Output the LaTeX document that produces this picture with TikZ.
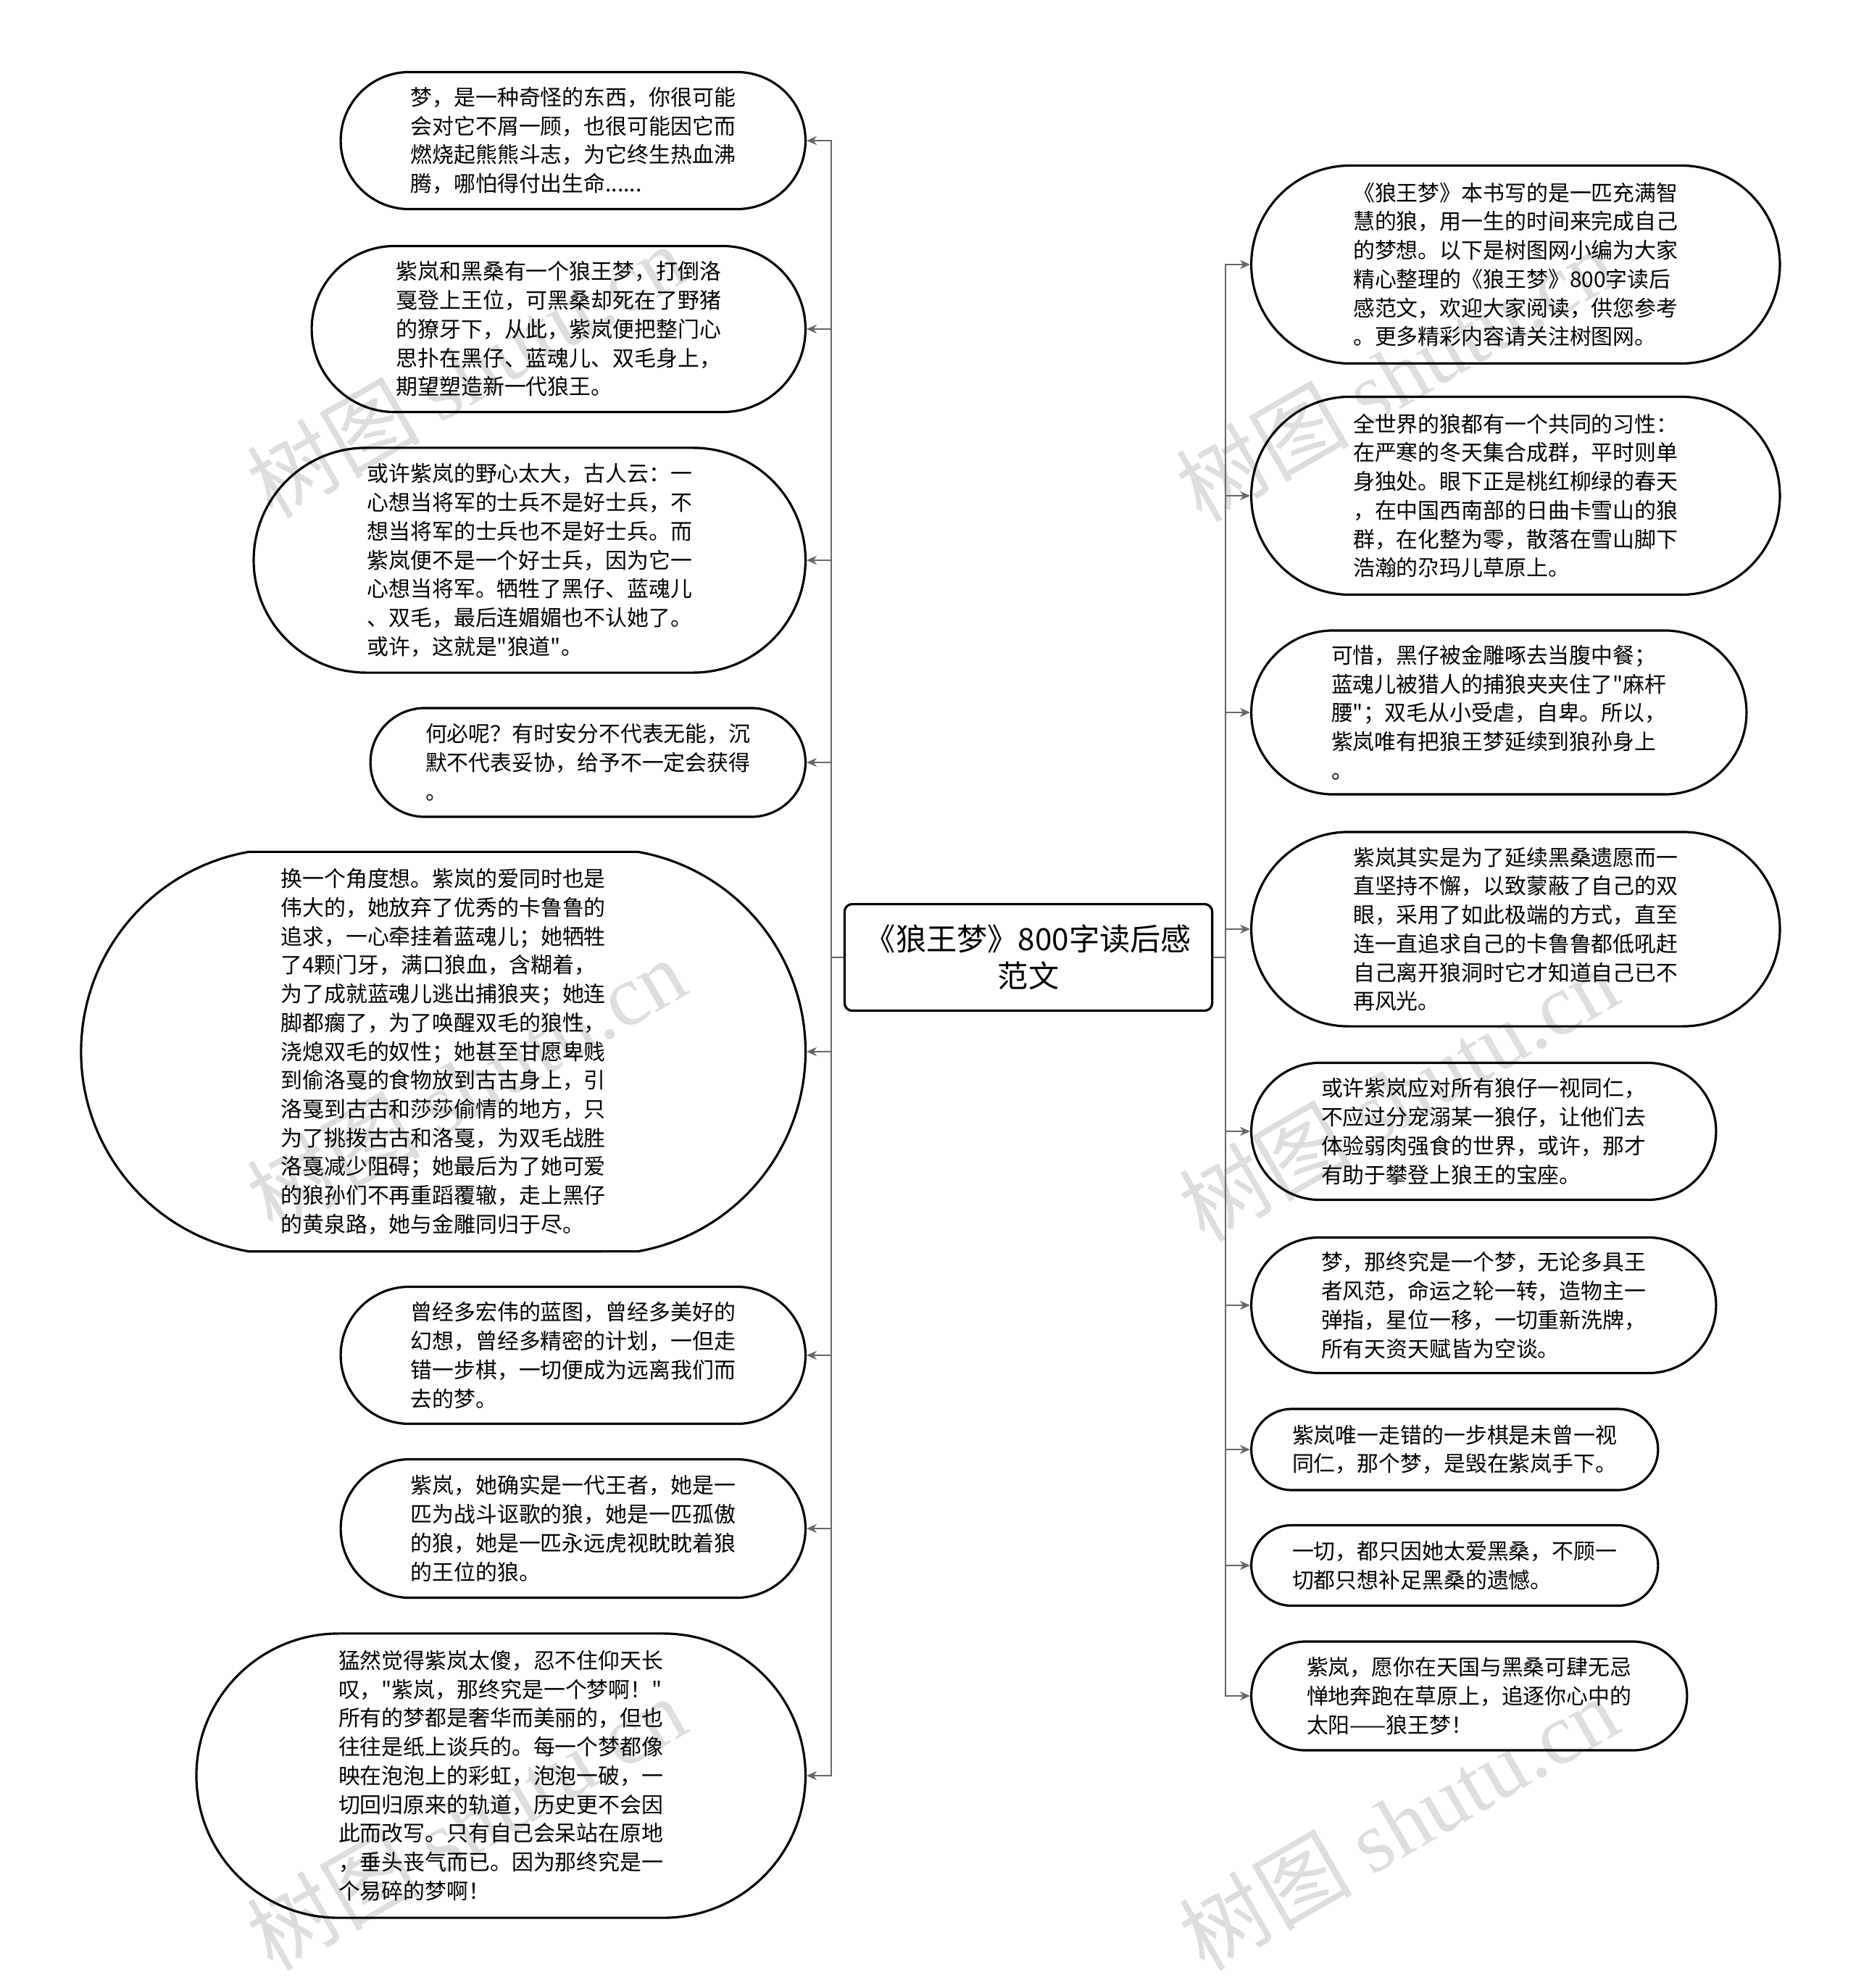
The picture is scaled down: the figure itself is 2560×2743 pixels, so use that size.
\documentclass[tikz,border=0pt]{standalone}
\usepackage{fontspec}
\setmainfont{Noto Sans CJK SC}
\newfontfamily\cjktext{Noto Sans CJK SC}
\newfontfamily\wmlatin{Liberation Serif}
\usepackage{xcolor}
\definecolor{linegray}{HTML}{666666}
\definecolor{wmgray}{HTML}{DDDDDD}
\usepackage{tikz}
\usetikzlibrary{arrows.meta,shapes.misc}

\begin{document}
\begin{tikzpicture}[
  x=0.01cm,y=0.01cm,
  leaf/.style={draw=black,line width=0.9pt,rounded rectangle,align=left,inner sep=2pt,font=\cjktext\fontsize{8.5pt}{11.3pt}\selectfont},
  root/.style={draw=black,line width=0.9pt,rounded corners=3pt,align=center,inner sep=2pt,font=\cjktext\fontsize{12pt}{14.6pt}\selectfont},
  arr/.style={-{Stealth[length=4pt,width=3.5pt]},draw=linegray,line width=0.6pt},
  wmark/.style={text=wmgray,rotate=30,font=\cjktext\fontsize{34pt}{36pt}\selectfont}]
\useasboundingbox (0,0) rectangle (2560,-2743);
% watermarks
\node[wmark] (wm1) at (643,-511) {树图 {\wmlatin shutu.cn}};
\node[wmark] (wm2) at (1925,-516) {树图 {\wmlatin shutu.cn}};
\node[wmark] (wm3) at (643,-1496) {树图 {\wmlatin shutu.cn}};
\node[wmark] (wm4) at (1929,-1509) {树图 {\wmlatin shutu.cn}};
\node[wmark] (wm5) at (643,-2515) {树图 {\wmlatin shutu.cn}};
\node[wmark] (wm6) at (1929,-2515) {树图 {\wmlatin shutu.cn}};
% central topic
\node[root,minimum width=5.07cm,minimum height=1.47cm] (root) at (1419,-1321) {《狼王梦》800字读后感\\范文};
% left branch
\node[leaf,anchor=east,minimum width=6.55cm,minimum height=1.89cm] (l1) at (1113,-194) {梦，是一种奇怪的东西，你很可能\\
会对它不屑一顾，也很可能因它而\\
燃烧起熊熊斗志，为它终生热血沸\\
腾，哪怕得付出生命......};
\node[leaf,anchor=east,minimum width=6.95cm,minimum height=2.29cm] (l2) at (1113,-454) {紫岚和黑桑有一个狼王梦，打倒洛\\
戛登上王位，可黑桑却死在了野猪\\
的獠牙下，从此，紫岚便把整门心\\
思扑在黑仔、蓝魂儿、双毛身上，\\
期望塑造新一代狼王。};
\node[leaf,anchor=east,minimum width=7.75cm,minimum height=3.10cm] (l3) at (1113,-773) {或许紫岚的野心太大，古人云：一\\
心想当将军的士兵不是好士兵，不\\
想当将军的士兵也不是好士兵。而\\
紫岚便不是一个好士兵，因为它一\\
心想当将军。牺牲了黑仔、蓝魂儿\\
、双毛，最后连媚媚也不认她了。\\
或许，这就是"狼道"。};
\node[leaf,anchor=east,minimum width=6.14cm,minimum height=1.50cm] (l4) at (1113,-1052) {何必呢？有时安分不代表无能，沉\\
默不代表妥协，给予不一定会获得\\
。};
\node[leaf,anchor=east,rounded rectangle arc length=160,minimum width=10.13cm,minimum height=5.51cm] (l5) at (1113,-1451) {换一个角度想。紫岚的爱同时也是\\
伟大的，她放弃了优秀的卡鲁鲁的\\
追求，一心牵挂着蓝魂儿；她牺牲\\
了4颗门牙，满口狼血，含糊着，\\
为了成就蓝魂儿逃出捕狼夹；她连\\
脚都瘸了，为了唤醒双毛的狼性，\\
浇熄双毛的奴性；她甚至甘愿卑贱\\
到偷洛戛的食物放到古古身上，引\\
洛戛到古古和莎莎偷情的地方，只\\
为了挑拨古古和洛戛，为双毛战胜\\
洛戛减少阻碍；她最后为了她可爱\\
的狼孙们不再重蹈覆辙，走上黑仔\\
的黄泉路，她与金雕同归于尽。};
\node[leaf,anchor=east,minimum width=6.55cm,minimum height=1.89cm] (l6) at (1113,-1870) {曾经多宏伟的蓝图，曾经多美好的\\
幻想，曾经多精密的计划，一但走\\
错一步棋，一切便成为远离我们而\\
去的梦。};
\node[leaf,anchor=east,minimum width=6.55cm,minimum height=1.91cm] (l7) at (1113,-2109) {紫岚，她确实是一代王者，她是一\\
匹为战斗讴歌的狼，她是一匹孤傲\\
的狼，她是一匹永远虎视眈眈着狼\\
的王位的狼。};
\node[leaf,anchor=east,minimum width=8.54cm,minimum height=3.92cm] (l8) at (1113,-2450) {猛然觉得紫岚太傻，忍不住仰天长\\
叹，"紫岚，那终究是一个梦啊！"\\
所有的梦都是奢华而美丽的，但也\\
往往是纸上谈兵的。每一个梦都像\\
映在泡泡上的彩虹，泡泡一破，一\\
切回归原来的轨道，历史更不会因\\
此而改写。只有自己会呆站在原地\\
，垂头丧气而已。因为那终究是一\\
个易碎的梦啊！};
% right branch
\node[leaf,anchor=west,minimum width=7.43cm,minimum height=2.73cm] (r1) at (1725,-365) {《狼王梦》本书写的是一匹充满智\\
慧的狼，用一生的时间来完成自己\\
的梦想。以下是树图网小编为大家\\
精心整理的《狼王梦》800字读后\\
感范文，欢迎大家阅读，供您参考\\
。更多精彩内容请关注树图网。};
\node[leaf,anchor=west,minimum width=7.43cm,minimum height=2.73cm] (r2) at (1725,-684) {全世界的狼都有一个共同的习性：\\
在严寒的冬天集合成群，平时则单\\
身独处。眼下正是桃红柳绿的春天\\
，在中国西南部的日曲卡雪山的狼\\
群，在化整为零，散落在雪山脚下\\
浩瀚的尕玛儿草原上。};
\node[leaf,anchor=west,minimum width=6.97cm,minimum height=2.26cm] (r3) at (1725,-983) {可惜，黑仔被金雕啄去当腹中餐；\\
蓝魂儿被猎人的捕狼夹夹住了"麻杆\\
腰"；双毛从小受虐，自卑。所以，\\
紫岚唯有把狼王梦延续到狼孙身上\\
。};
\node[leaf,anchor=west,minimum width=7.43cm,minimum height=2.68cm] (r4) at (1725,-1282) {紫岚其实是为了延续黑桑遗愿而一\\
直坚持不懈，以致蒙蔽了自己的双\\
眼，采用了如此极端的方式，直至\\
连一直追求自己的卡鲁鲁都低吼赶\\
自己离开狼洞时它才知道自己已不\\
再风光。};
\node[leaf,anchor=west,minimum width=6.55cm,minimum height=1.89cm] (r5) at (1725,-1561) {或许紫岚应对所有狼仔一视同仁，\\
不应过分宠溺某一狼仔，让他们去\\
体验弱肉强食的世界，或许，那才\\
有助于攀登上狼王的宝座。};
\node[leaf,anchor=west,minimum width=6.55cm,minimum height=1.87cm] (r6) at (1725,-1801) {梦，那终究是一个梦，无论多具王\\
者风范，命运之轮一转，造物主一\\
弹指，星位一移，一切重新洗牌，\\
所有天资天赋皆为空谈。};
\node[leaf,anchor=west,minimum width=5.75cm,minimum height=1.12cm] (r7) at (1725,-2000) {紫岚唯一走错的一步棋是未曾一视\\
同仁，那个梦，是毁在紫岚手下。};
\node[leaf,anchor=west,minimum width=5.75cm,minimum height=1.11cm] (r8) at (1725,-2160) {一切，都只因她太爱黑桑，不顾一\\
切都只想补足黑桑的遗憾。};
\node[leaf,anchor=west,minimum width=6.15cm,minimum height=1.50cm] (r9) at (1725,-2340) {紫岚，愿你在天国与黑桑可肆无忌\\
惮地奔跑在草原上，追逐你心中的\\
太阳——狼王梦！};
% connectors
\draw[arr] (root.west) -- ++(-17,0) |- (l1.east);
\draw[arr] (root.west) -- ++(-17,0) |- (l2.east);
\draw[arr] (root.west) -- ++(-17,0) |- (l3.east);
\draw[arr] (root.west) -- ++(-17,0) |- (l4.east);
\draw[arr] (root.west) -- ++(-17,0) |- (l5.east);
\draw[arr] (root.west) -- ++(-17,0) |- (l6.east);
\draw[arr] (root.west) -- ++(-17,0) |- (l7.east);
\draw[arr] (root.west) -- ++(-17,0) |- (l8.east);
\draw[arr] (root.east) -- ++(17,0) |- (r1.west);
\draw[arr] (root.east) -- ++(17,0) |- (r2.west);
\draw[arr] (root.east) -- ++(17,0) |- (r3.west);
\draw[arr] (root.east) -- ++(17,0) |- (r4.west);
\draw[arr] (root.east) -- ++(17,0) |- (r5.west);
\draw[arr] (root.east) -- ++(17,0) |- (r6.west);
\draw[arr] (root.east) -- ++(17,0) |- (r7.west);
\draw[arr] (root.east) -- ++(17,0) |- (r8.west);
\draw[arr] (root.east) -- ++(17,0) |- (r9.west);
\end{tikzpicture}
\end{document}
